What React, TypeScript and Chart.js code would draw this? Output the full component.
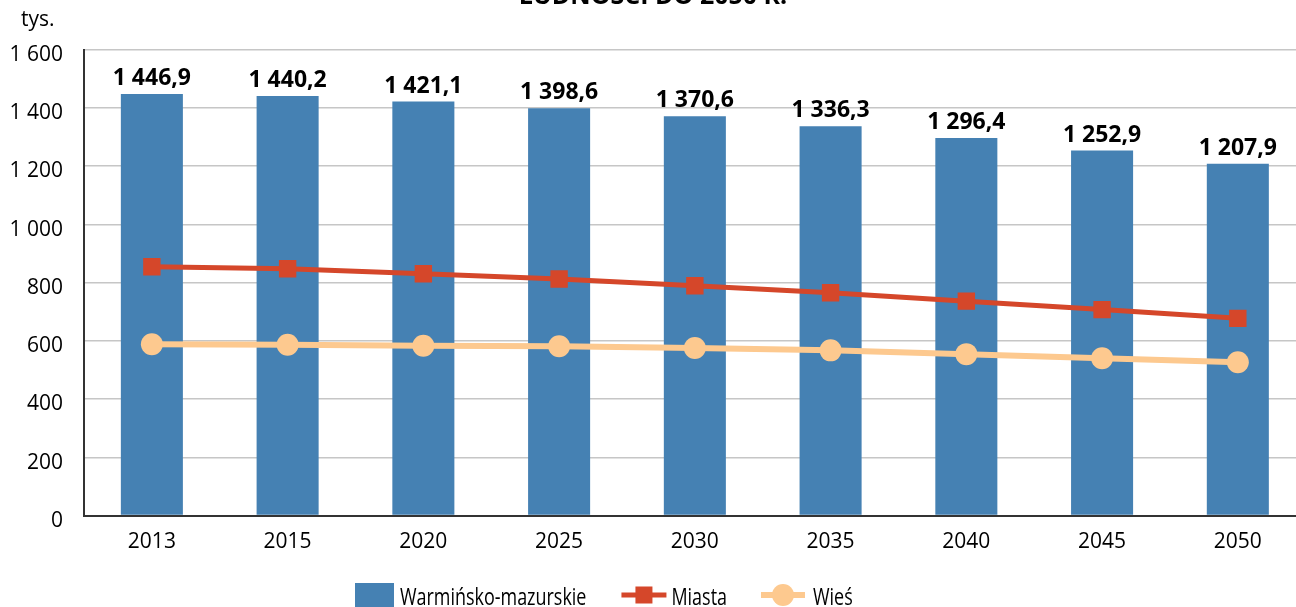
import React, { useEffect, useRef } from "react";
import { Chart, registerables } from "chart.js";

Chart.register(...registerables);

const categories = ["2013", "2015", "2020", "2025", "2030", "2035", "2040", "2045", "2050"];
const totalValues = [1446.9, 1440.2, 1421.1, 1398.6, 1370.6, 1336.3, 1296.4, 1252.9, 1207.9];
const miastaValues = [854, 847, 830, 812, 789, 765, 736, 707, 677];
const wiesValues = [588, 586, 583, 581, 575, 567, 554, 540, 526];
const yTickValues = [0, 200, 400, 600, 800, 1000, 1200, 1400, 1600];

const seriesNames = ["Warmińsko-mazurskie", "Miasta", "Wieś"];
const titleText = "LUDNOŚCI DO 2050 R.";
const unitText = "tys.";

const BAR_COLOR = "#4581B3";
const MIASTA_COLOR = "#D5472A";
const WIES_COLOR = "#FDC98F";
const FONT = "'Open Sans', 'Noto Sans', sans-serif";

function fmt(v: number, dec: number): string {
  const s = v.toFixed(dec);
  const [i, d] = s.split(".");
  const ii = i.replace(/\B(?=(\d{3})+(?!\d))/g, " ");
  return d ? ii + "," + d : ii;
}

function condensedText(ctx: CanvasRenderingContext2D, text: string, x: number, y: number, sx: number): number {
  ctx.save();
  ctx.translate(x, y);
  ctx.scale(sx, 1);
  ctx.fillText(text, 0, 0);
  ctx.restore();
  return ctx.measureText(text).width * sx;
}

const decorPlugin = {
  id: "decor",
  afterDatasetsDraw(chart: any) {
    const ctx = chart.ctx as CanvasRenderingContext2D;
    const meta = chart.getDatasetMeta(0);
    ctx.save();
    ctx.fillStyle = "#000";
    ctx.font = `700 23px ${FONT}`;
    ctx.textAlign = "center";
    ctx.textBaseline = "alphabetic";
    meta.data.forEach((el: any, i: number) => {
      ctx.fillText(fmt(totalValues[i], 1), el.x, el.y - 9);
    });
    ctx.restore();
  },
  afterDraw(chart: any) {
    const ctx = chart.ctx as CanvasRenderingContext2D;
    ctx.save();
    // title (cut off at top)
    ctx.fillStyle = "#000";
    ctx.font = `700 25px ${FONT}`;
    ctx.textAlign = "center";
    ctx.textBaseline = "alphabetic";
    ctx.fillText(titleText, 653, 4);
    // unit
    ctx.font = `400 21px ${FONT}`;
    ctx.textAlign = "left";
    ctx.fillText(unitText, 21, 26);

    // legend
    const ly = 595;
    const base = 605;
    const sx = 0.78;
    ctx.font = `400 23px ${FONT}`;
    ctx.textBaseline = "alphabetic";
    let x = 355;
    ctx.fillStyle = BAR_COLOR;
    ctx.fillRect(x, 583, 39, 26);
    x += 39 + 6;
    ctx.fillStyle = "#000";
    x += condensedText(ctx, seriesNames[0], x, base, sx) + 35;

    ctx.strokeStyle = MIASTA_COLOR;
    ctx.lineWidth = 5;
    ctx.beginPath();
    ctx.moveTo(x, ly);
    ctx.lineTo(x + 45, ly);
    ctx.stroke();
    ctx.fillStyle = MIASTA_COLOR;
    ctx.fillRect(x + 22.5 - 8.5, ly - 8.5, 17, 17);
    x += 45 + 5;
    ctx.fillStyle = "#000";
    x += condensedText(ctx, seriesNames[1], x, base, sx) + 34;

    ctx.strokeStyle = WIES_COLOR;
    ctx.lineWidth = 6;
    ctx.beginPath();
    ctx.moveTo(x, ly);
    ctx.lineTo(x + 44, ly);
    ctx.stroke();
    ctx.fillStyle = WIES_COLOR;
    ctx.beginPath();
    ctx.arc(x + 22, ly, 11, 0, Math.PI * 2);
    ctx.fill();
    x += 44 + 8;
    ctx.fillStyle = "#000";
    condensedText(ctx, seriesNames[2], x, base, sx);
    ctx.restore();
  },
};

export default function App() {
  const ref = useRef<HTMLCanvasElement | null>(null);
  useEffect(() => {
    if (!ref.current) return;
    const chart = new Chart(ref.current, {
      type: "bar",
      data: {
        labels: categories,
        datasets: [
          {
            type: "bar",
            label: seriesNames[0],
            data: totalValues,
            backgroundColor: BAR_COLOR,
            borderWidth: 0,
            barPercentage: 0.457,
            categoryPercentage: 1,
            order: 3,
          } as any,
          {
            type: "line",
            label: seriesNames[1],
            data: miastaValues,
            borderColor: MIASTA_COLOR,
            backgroundColor: MIASTA_COLOR,
            borderWidth: 5,
            tension: 0,
            pointStyle: "rect",
            pointRadius: 12.3,
            pointBorderWidth: 0,
            pointBackgroundColor: MIASTA_COLOR,
            order: 1,
          } as any,
          {
            type: "line",
            label: seriesNames[2],
            data: wiesValues,
            borderColor: WIES_COLOR,
            backgroundColor: WIES_COLOR,
            borderWidth: 6,
            tension: 0,
            pointStyle: "circle",
            pointRadius: 11,
            pointBorderWidth: 0,
            pointBackgroundColor: WIES_COLOR,
            order: 2,
          } as any,
        ],
      },
      options: {
        animation: false,
        responsive: true,
        maintainAspectRatio: false,
        layout: { padding: { left: 0, right: 5, top: 49.5, bottom: 0 } },
        plugins: {
          legend: { display: false },
          tooltip: { enabled: false },
          title: { display: false },
        },
        scales: {
          x: {
            grid: { display: false, drawTicks: false },
            border: { display: true, color: "#333", width: 2 },
            ticks: {
              color: "#000",
              font: { family: FONT, size: 21 },
              padding: 14,
              maxRotation: 0,
              autoSkip: false,
            },
            afterFit: (scale: any) => {
              scale.height = 91.5;
            },
          },
          y: {
            min: 0,
            max: 1600,
            afterBuildTicks: (scale: any) => {
              scale.ticks = yTickValues.map((v) => ({ value: v }));
            },
            grid: { color: "#c6c6c6", lineWidth: 1.5, drawTicks: false },
            border: { display: true, color: "#333", width: 2 },
            ticks: {
              color: "#000",
              font: { family: FONT, size: 21 },
              padding: 21,
              labelOffset: 5.5,
              callback: (v: any) => fmt(Number(v), 0),
            },
            afterFit: (scale: any) => {
              scale.width = 84;
            },
          },
        },
      },
      plugins: [decorPlugin],
    });
    return () => chart.destroy();
  }, []);

  return (
    <div style={{ position: "fixed", left: 0, top: 0, width: 1296, height: 607, overflow: "hidden", background: "#fff" }}>
      <div style={{ position: "absolute", left: 0, top: 0, width: 1318, height: 607 }}>
        <canvas ref={ref} />
      </div>
    </div>
  );
}
